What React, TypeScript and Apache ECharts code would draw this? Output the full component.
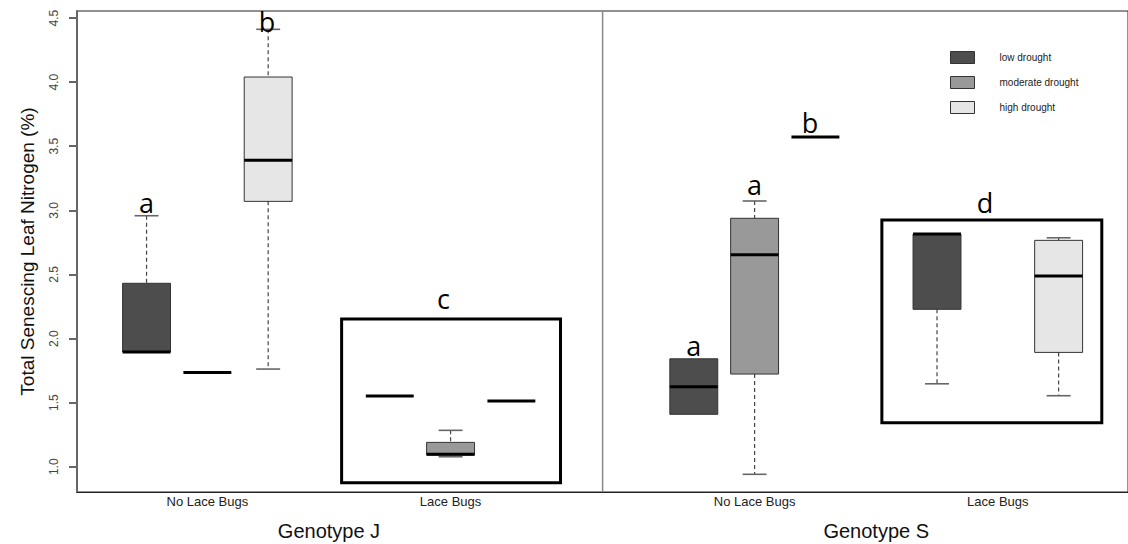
import React, { useEffect, useRef } from "react";
import * as echarts from "echarts";

// ---------- data ----------
const droughtLevels = ["low drought", "moderate drought", "high drought"];
const droughtColors = ["#4d4d4d", "#999999", "#e6e6e6"];

// group centre positions on the x scale (slot units) and their labels
const treatmentPositions = [1, 5, 10, 14];
const treatmentLabels = ["No Lace Bugs", "Lace Bugs", "No Lace Bugs", "Lace Bugs"];
const genotypePositions = [3, 12];
const genotypeLabels = ["Genotype J", "Genotype S"];
const dividerPosition = 7.5;

// five-number summaries [min, q1, median, q3, max] per group (J-No, J-Lace, S-No, S-Lace)
const lowDrought: (number[] | null)[] = [
  [1.895, 1.895, 1.895, 2.431, 2.958],
  [1.551, 1.551, 1.551, 1.551, 1.551],
  [1.409, 1.409, 1.624, 1.842, 1.842],
  [1.647, 2.228, 2.815, 2.815, 2.815],
];
const moderateDrought: (number[] | null)[] = [
  [1.736, 1.736, 1.736, 1.736, 1.736],
  [1.078, 1.091, 1.097, 1.19, 1.284],
  [0.941, 1.723, 2.654, 2.938, 3.073],
  null,
];
const highDrought: (number[] | null)[] = [
  [1.762, 3.07, 3.39, 4.04, 4.412],
  [1.512, 1.512, 1.512, 1.512, 1.512],
  [3.572, 3.572, 3.572, 3.572, 3.572],
  [1.554, 1.892, 2.488, 2.766, 2.786],
];
const droughtData = [lowDrought, moderateDrought, highDrought];

// significance letters: x position (slot units), baseline value
const letterTexts = ["a", "b", "c", "a", "a", "b", "d"];
const letterX = [0, 1.98, 4.885, 9, 10, 10.91, 13.79];
const letterY = [2.971, 4.383, 2.222, 1.85, 3.106, 3.593, 2.971];

// highlighted frames: [x1, yLow, x2, yHigh]
const frames = [
  [3.208, 0.875, 6.808, 2.152],
  [12.093, 1.343, 15.71, 2.924],
];

const yTicks = [1.0, 1.5, 2.0, 2.5, 3.0, 3.5, 4.0, 4.5];

// ---------- scale ----------
const X_MIN = -1.144;
const X_MAX = 16.141;
const Y_MIN = 0.803;
const Y_MAX = 4.555;
const BOX_W = 0.788;

const SANS = '"Liberation Sans", Arial, sans-serif';
const LETTER_FONT = '"Open Sans", "Noto Sans", sans-serif';
const LETTER_SIZE = 27;

function boxSeries(levelIdx: number) {
  const rows: number[][] = [];
  droughtData[levelIdx].forEach((s, g) => {
    if (s) rows.push([treatmentPositions[g] + (levelIdx - 1), ...s]);
  });
  const color = droughtColors[levelIdx];
  return {
    type: "custom",
    name: droughtLevels[levelIdx],
    itemStyle: { color },
    data: rows,
    renderItem: (params: any, api: any) => {
      const x = api.value(0);
      const mn = api.value(1);
      const q1 = api.value(2);
      const md = api.value(3);
      const q3 = api.value(4);
      const mx = api.value(5);
      const cx = api.coord([x, md])[0];
      const yMin = api.coord([x, mn])[1];
      const yQ1 = api.coord([x, q1])[1];
      const yMd = api.coord([x, md])[1];
      const yQ3 = api.coord([x, q3])[1];
      const yMax = api.coord([x, mx])[1];
      const half = api.size([BOX_W, 0])[0] / 2;
      const capHalf = half / 2;
      const children: any[] = [];
      const whisker = { stroke: "#444", lineWidth: 1.2, lineDash: [4, 3] };
      const cap = { stroke: "#666", lineWidth: 1.6 };
      if (mx > q3) {
        children.push({ type: "line", shape: { x1: cx, y1: yMax, x2: cx, y2: yQ3 }, style: whisker });
        children.push({ type: "line", shape: { x1: cx - capHalf, y1: yMax, x2: cx + capHalf, y2: yMax }, style: cap });
      }
      if (mn < q1) {
        children.push({ type: "line", shape: { x1: cx, y1: yQ1, x2: cx, y2: yMin }, style: whisker });
        children.push({ type: "line", shape: { x1: cx - capHalf, y1: yMin, x2: cx + capHalf, y2: yMin }, style: cap });
      }
      if (q3 > q1) {
        children.push({
          type: "rect",
          shape: { x: cx - half, y: yQ3, width: half * 2, height: yQ1 - yQ3 },
          style: { fill: color, stroke: "#333", lineWidth: 1 },
        });
      }
      children.push({
        type: "line",
        shape: { x1: cx - half, y1: yMd, x2: cx + half, y2: yMd },
        style: { stroke: "#000", lineWidth: 3 },
      });
      return { type: "group", children };
    },
  };
}

export default function App() {
  const ref = useRef<HTMLDivElement>(null);
  useEffect(() => {
    if (!ref.current) return;
    const chart = echarts.init(ref.current, undefined, { renderer: "svg" });
    const option: any = {
      animation: false,
      backgroundColor: "#ffffff",
      grid: { left: 77, right: -2, top: 11, bottom: 52, show: true, borderColor: "#222", borderWidth: 1 },
      legend: {
        data: droughtLevels,
        orient: "vertical",
        left: 950,
        top: 51,
        padding: 0,
        itemWidth: 24,
        itemHeight: 12,
        itemGap: 12,
        icon: "rect",
        itemStyle: { borderColor: "#333", borderWidth: 1 },
        textStyle: { fontSize: 10, color: "#222", fontFamily: SANS, padding: [0, 0, 0, 20] },
      },
      xAxis: [
        {
          type: "value",
          min: X_MIN,
          max: X_MAX,
          position: "bottom",
          axisLine: { show: true, onZero: false, lineStyle: { color: "#222", width: 1 } },
          axisTick: { show: false },
          splitLine: { show: false },
          axisLabel: {
            customValues: treatmentPositions,
            formatter: (v: number) => treatmentLabels[treatmentPositions.indexOf(v)] ?? "",
            margin: 3,
            fontSize: 13,
            color: "#222",
            fontFamily: SANS,
          },
        },
        {
          type: "value",
          min: X_MIN,
          max: X_MAX,
          position: "bottom",
          offset: 0,
          axisLine: { show: false, onZero: false },
          axisTick: { show: false },
          splitLine: { show: false },
          axisLabel: {
            customValues: genotypePositions,
            formatter: (v: number) => genotypeLabels[genotypePositions.indexOf(v)] ?? "",
            margin: 29,
            fontSize: 20,
            color: "#111",
            fontFamily: SANS,
          },
        },
      ],
      yAxis: {
        type: "value",
        min: Y_MIN,
        max: Y_MAX,
        name: "Total Senescing Leaf Nitrogen (%)",
        nameLocation: "middle",
        nameGap: 40,
        nameTextStyle: { fontSize: 19, color: "#111", fontFamily: SANS },
        axisLine: { show: true, onZero: false, lineStyle: { color: "#666", width: 2 } },
        axisTick: { show: true, customValues: yTicks, length: 8, lineStyle: { color: "#666", width: 2 } },
        splitLine: { show: false },
        axisLabel: {
          customValues: yTicks,
          formatter: (v: number) => v.toFixed(1),
          rotate: 90,
          margin: 17,
          fontSize: 12,
          color: "#444",
          fontFamily: SANS,
        },
      },
      series: [
        {
          type: "custom",
          name: "divider",
          data: [[dividerPosition]],
          renderItem: (params: any, api: any) => {
            const top = api.coord([api.value(0), Y_MAX]);
            const bot = api.coord([api.value(0), Y_MIN]);
            return {
              type: "line",
              shape: { x1: top[0], y1: top[1], x2: bot[0], y2: bot[1] },
              style: { stroke: "#888", lineWidth: 1.5 },
            };
          },
        },
        boxSeries(0),
        boxSeries(1),
        boxSeries(2),
        {
          type: "custom",
          name: "frames",
          data: frames,
          renderItem: (params: any, api: any) => {
            const p1 = api.coord([api.value(0), api.value(3)]);
            const p2 = api.coord([api.value(2), api.value(1)]);
            return {
              type: "rect",
              shape: { x: p1[0], y: p1[1], width: p2[0] - p1[0], height: p2[1] - p1[1] },
              style: { fill: "none", stroke: "#000", lineWidth: 3 },
            };
          },
        },
        {
          type: "custom",
          name: "letters",
          data: letterX.map((x, i) => [x, letterY[i]]),
          renderItem: (params: any, api: any) => {
            const p = api.coord([api.value(0), api.value(1)]);
            return {
              type: "text",
              x: p[0],
              y: p[1] - LETTER_SIZE * 0.44,
              style: {
                text: letterTexts[params.dataIndex],
                fontSize: LETTER_SIZE,
                fontFamily: LETTER_FONT,
                fill: "#000",
                align: "center",
                verticalAlign: "middle",
              },
            };
          },
        },
      ],
    };
    chart.setOption(option);
    return () => chart.dispose();
  }, []);
  return (
    <div
      ref={ref}
      style={{ position: "absolute", left: 0, top: 0, width: 1128, height: 544, background: "#fff" }}
    />
  );
}
